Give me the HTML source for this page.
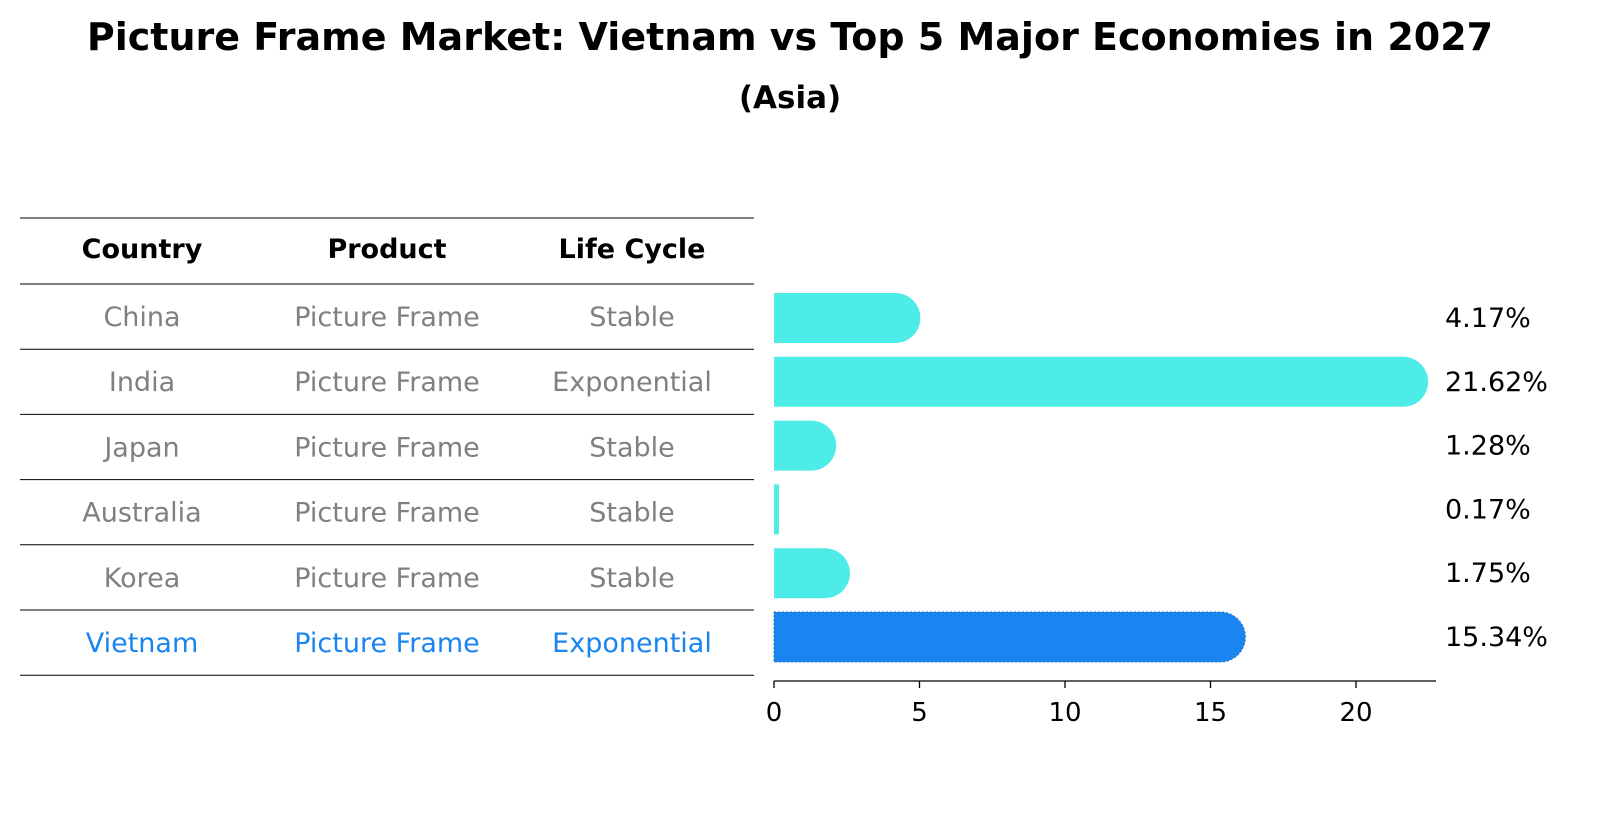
<!DOCTYPE html>
<html><head><meta charset="utf-8"><style>
body{margin:0;background:#fff;width:1604px;height:823px;overflow:hidden;font-family:"Liberation Sans","DejaVu Sans",sans-serif;}
</style></head><body>
<svg width="1604" height="823" xmlns="http://www.w3.org/2000/svg">
<text x="790" y="50" text-anchor="middle" font-size="38" font-weight="bold" font-family="DejaVu Sans, Liberation Sans, sans-serif">Picture Frame Market: Vietnam vs Top 5 Major Economies in 2027</text>
<text x="790" y="108" text-anchor="middle" font-size="31" font-weight="bold" font-family="DejaVu Sans, Liberation Sans, sans-serif">(Asia)</text>
<g id="table"></g>
<g id="bars"></g>
</svg>
<script>
const countries=["China","India","Japan","Australia","Korea","Vietnam"];
const products=["Picture Frame","Picture Frame","Picture Frame","Picture Frame","Picture Frame","Picture Frame"];
const lifeCycles=["Stable","Exponential","Stable","Stable","Stable","Exponential"];
const values=[4.17,21.62,1.28,0.17,1.75,15.34];
const valueLabels=["4.17%","21.62%","1.28%","0.17%","1.75%","15.34%"];
const xTicks=[0,5,10,15,20];
const NS="http://www.w3.org/2000/svg";
function mk(tag,attrs,parent){const e=document.createElementNS(NS,tag);for(const k in attrs)e.setAttribute(k,attrs[k]);parent.appendChild(e);return e;}
const x=v=>774+v*29.1;
const rowTop=r=>284+r*65.2;
const rowMid=r=>rowTop(r)+33;
const FONT="DejaVu Sans, Liberation Sans, sans-serif";
const tbl=document.getElementById('table');
const lines=[218,284];for(let i=1;i<=6;i++)lines.push(rowTop(i));
lines.forEach((y,i)=>{const l=mk('line',{x1:20,x2:754,y1:y,y2:y,stroke:'#000','stroke-width':1},tbl);

});
const colX=[142,387,632];
["Country","Product","Life Cycle"].forEach((h,i)=>{const t=mk('text',{x:colX[i],y:258,'text-anchor':'middle','font-size':27,'font-weight':'bold','font-family':FONT},tbl);t.textContent=h;

});
countries.forEach((c,r)=>{const col=r===5?'#1a85f0':'#808080';
[c,products[r],lifeCycles[r]].forEach((v,i)=>{const t=mk('text',{x:colX[i],y:rowMid(r)+9,'text-anchor':'middle','font-size':27,fill:col,'font-family':FONT},tbl);t.textContent=v;

});});
const g=document.getElementById('bars');
const H=50;
values.forEach((v,r)=>{const cy=318+r*63.8;const y0=cy-H/2;const col=r===5?'#1a85f0':'#4eece8';
const cap=v>=1?H/2:0;
let d=`M${x(0)},${y0} H${x(v)} `+(cap?`A${cap},${cap} 0 0 1 ${x(v)},${y0+H} `:`V${y0+H} `)+`H${x(0)} Z`;
const p=mk('path',{d:d,fill:col},g);
if(r===5){p.setAttribute('stroke','#2a6fc0');p.setAttribute('stroke-dasharray','2,2');p.setAttribute('stroke-width','1');}


const t=mk('text',{x:1445,y:cy+9,'font-size':27,'font-family':FONT},g);t.textContent=valueLabels[r];

});
const ax=mk('line',{x1:774,x2:1436,y1:681,y2:681,stroke:'#000','stroke-width':1.3},g);


xTicks.forEach(v=>{const l=mk('line',{x1:x(v),x2:x(v),y1:681,y2:688,stroke:'#000','stroke-width':1.3},g);


const t=mk('text',{x:x(v),y:721,'text-anchor':'middle','font-size':26,'font-family':FONT},g);t.textContent=v;

});
</script>
</body></html>
